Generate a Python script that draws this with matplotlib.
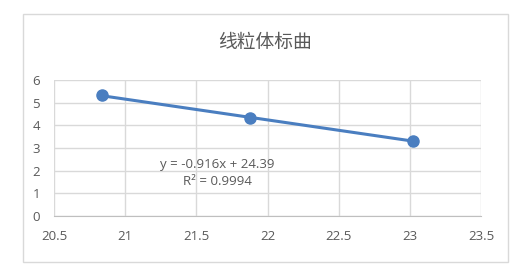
import numpy as np
import matplotlib
matplotlib.use("Agg")
import matplotlib.pyplot as plt
from matplotlib.patches import Rectangle

# data
ct_values = [20.84, 21.88, 23.02]
log_copies = [5.33, 4.33, 3.32]
slope = -0.916
intercept = 24.39
r_squared = 0.9994
title = "线粒体标曲"
x_ticks = [20.5, 21, 21.5, 22, 22.5, 23, 23.5]
y_ticks = [0, 1, 2, 3, 4, 5, 6]

text_color = "#595959"
grid_color = "#d9d9d9"
blue = "#4a7ec0"

plt.rcParams['font.family'] = ['Open Sans', 'DejaVu Sans']

fig = plt.figure(figsize=(5.16, 2.71), dpi=100)
fig.patch.set_facecolor("white")

# outer chart border
fig.patches.append(Rectangle((0.0446, 0.033), 0.94, 0.915, transform=fig.transFigure,
                             fill=False, edgecolor=grid_color, linewidth=1.0))

ax = fig.add_axes([0.1047, 0.203, 0.8275, 0.502])

# trendline over the data range
xs = np.array([min(ct_values), max(ct_values)])
ax.plot(xs, slope * xs + intercept, color=blue, linewidth=2.2, zorder=3)
ax.plot(ct_values, log_copies, linestyle="none", marker="o", markersize=8,
        color=blue, zorder=4)

ax.set_xlim(x_ticks[0], x_ticks[-1])
ax.set_ylim(y_ticks[0], y_ticks[-1])
ax.set_xticks(x_ticks)
ax.set_xticklabels([f"{t:g}" for t in x_ticks])
ax.set_yticks(y_ticks)

ax.grid(True, color=grid_color, linewidth=1.0)
ax.set_axisbelow(True)
for side in ["left", "top", "right"]:
    ax.spines[side].set_visible(False)
ax.spines["bottom"].set_color("#bfbfbf")
ax.tick_params(axis="both", length=0, labelsize=9.5, colors=text_color)
ax.tick_params(axis="x", pad=10)
ax.tick_params(axis="y", pad=10)

ax.text(21.645, 1.9, f"y = {slope}x + {intercept}\nR² = {r_squared}",
        ha="center", va="center", multialignment="center",
        fontsize=9.5, color=text_color, linespacing=1.45)

fig.text(0.514, 0.845, title, ha="center", va="center", fontsize=13.5,
         color=text_color, family=['Noto Sans CJK SC', 'DejaVu Sans'])

fig.savefig("out.png", dpi=100)
